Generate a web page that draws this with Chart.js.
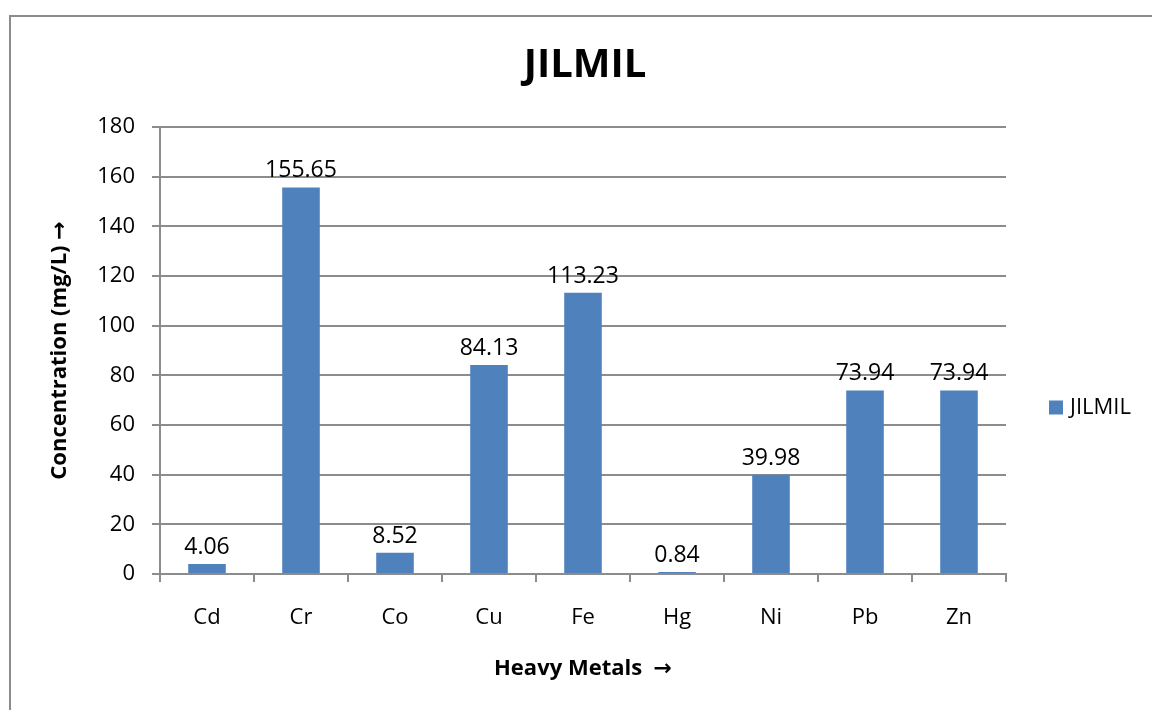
<!DOCTYPE html>
<html>
<head>
<meta charset="utf-8">
<script src="https://cdn.jsdelivr.net/npm/chart.js@4/dist/chart.umd.min.js"></script>
<style>
  html, body { margin: 0; padding: 0; background: #ffffff; }
  #wrap { width: 1152px; height: 710px; position: relative; }
  canvas { display: block; }
</style>
</head>
<body>
<div id="wrap"><canvas id="chart" width="1152" height="710"></canvas></div>
<script>
// Heavy metal concentrations measured at Jilmil (mg/L)
const metals = ['Cd', 'Cr', 'Co', 'Cu', 'Fe', 'Hg', 'Ni', 'Pb', 'Zn'];
const jilmilValues = [4.06, 155.65, 8.52, 84.13, 113.23, 0.84, 39.98, 73.94, 73.94];
const seriesName = 'JILMIL';
const yTicks = [0, 20, 40, 60, 80, 100, 120, 140, 160, 180];

const FONT = '"Open Sans", "Noto Sans", "DejaVu Sans", sans-serif';
// axis titles: arrow glyph taken from DejaVu Sans
const TITLE_FONT = '"Open Sans", "DejaVu Sans", sans-serif';
const BAR_BLUE = '#4F81BD';
const GRID_GREY = '#8c8c8c';

// Grey frame around the whole chart
const framePlugin = {
  id: 'frame',
  beforeDraw(chart) {
    const ctx = chart.ctx;
    ctx.save();
    ctx.fillStyle = '#ffffff';
    ctx.fillRect(0, 0, chart.width, chart.height);
    ctx.strokeStyle = GRID_GREY;
    ctx.lineWidth = 2;
    ctx.strokeRect(10, 16, chart.width + 20, chart.height + 20);
    ctx.restore();
  }
};

// Value printed above each bar
const valueLabelPlugin = {
  id: 'valueLabels',
  afterDatasetsDraw(chart) {
    const ctx = chart.ctx;
    ctx.save();
    ctx.font = '23px ' + FONT;
    ctx.fillStyle = '#000000';
    ctx.textAlign = 'center';
    ctx.textBaseline = 'alphabetic';
    chart.data.datasets.forEach((ds, di) => {
      chart.getDatasetMeta(di).data.forEach((bar, i) => {
        ctx.fillText(ds.data[i].toFixed(2), bar.x, bar.y - 10);
      });
    });
    ctx.restore();
  }
};

// Legend entry in the gutter right of the plot
const sideLegendPlugin = {
  id: 'sideLegend',
  afterDraw(chart) {
    const ctx = chart.ctx;
    const area = chart.chartArea;
    const ds = chart.data.datasets[0];
    const x = area.right + 43;
    const y = (area.top + area.bottom) / 2 + 57;
    ctx.save();
    ctx.fillStyle = ds.backgroundColor;
    ctx.fillRect(x, y - 7, 14, 14);
    ctx.font = '22px ' + FONT;
    ctx.fillStyle = '#000000';
    ctx.textAlign = 'left';
    ctx.textBaseline = 'middle';
    ctx.fillText(ds.label, x + 21, y);
    ctx.restore();
  }
};

new Chart(document.getElementById('chart'), {
  type: 'bar',
  data: {
    labels: metals,
    datasets: [{
      label: seriesName,
      data: jilmilValues,
      backgroundColor: BAR_BLUE,
      borderWidth: 0,
      categoryPercentage: 1.0,
      barPercentage: 0.4
    }]
  },
  options: {
    responsive: false,
    animation: false,
    layout: { padding: { top: 0, left: 18, right: 0, bottom: 0 } },
    plugins: {
      legend: { display: false },
      tooltip: { enabled: false },
      title: {
        display: true,
        text: 'JILMIL',
        color: '#000000',
        font: { family: FONT, size: 40, weight: 'bold', lineHeight: 1.2 },
        padding: { top: 42, bottom: 37 }
      }
    },
    scales: {
      x: {
        grid: {
          offset: true,
          drawOnChartArea: false,
          drawTicks: true,
          tickLength: 8,
          color: GRID_GREY,
          lineWidth: 2
        },
        border: { display: true, color: GRID_GREY, width: 2 },
        ticks: {
          color: '#000000',
          font: { family: FONT, size: 22 },
          padding: 23,
          maxRotation: 0
        },
        title: {
          display: true,
          text: 'Heavy Metals  \u2192',
          color: '#000000',
          font: { family: TITLE_FONT, size: 22, weight: 'bold', lineHeight: 1.2 },
          padding: { top: 0, bottom: 28 }
        },
        afterFit(scale) { scale.height = 136; }
      },
      y: {
        min: 0,
        max: 180,
        afterBuildTicks(scale) { scale.ticks = yTicks.map(v => ({ value: v })); },
        grid: {
          drawTicks: true,
          tickLength: 8,
          color: GRID_GREY,
          lineWidth: 2
        },
        border: { display: true, color: GRID_GREY, width: 2 },
        ticks: {
          color: '#000000',
          font: { family: FONT, size: 22 },
          padding: 17
        },
        title: {
          display: true,
          text: 'Concentration (mg/L) \u2192',
          color: '#000000',
          font: { family: TITLE_FONT, size: 22, weight: 'bold', lineHeight: 1.2 },
          padding: { top: 29, bottom: 0 }
        },
        afterFit(scale) { scale.width = 142; }
      },
      // empty right-hand gutter that holds the legend entry
      legendGutter: {
        type: 'linear',
        position: 'right',
        display: true,
        grid: { display: false, drawTicks: false },
        border: { display: false },
        ticks: { display: false },
        afterFit(scale) { scale.width = 146; }
      }
    }
  },
  plugins: [framePlugin, valueLabelPlugin, sideLegendPlugin]
});
</script>
</body>
</html>
